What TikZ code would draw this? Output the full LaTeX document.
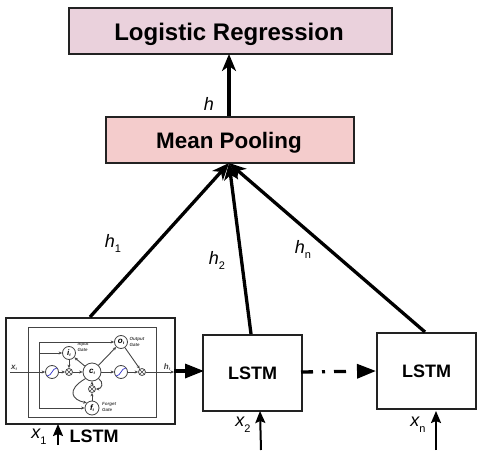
\documentclass[tikz,border=0pt]{standalone}
\usepackage{fontspec}
\setmainfont{Liberation Sans}
\usetikzlibrary{arrows.meta,calc}
\definecolor{lrfill}{HTML}{EAD1DC}
\definecolor{mpfill}{HTML}{F4CCCC}
\definecolor{edge}{HTML}{222222}
\definecolor{inner}{HTML}{444444}
\tikzset{
  x=1pt,y=-1pt,
  box/.style={draw=edge,line width=2pt,minimum height=0pt,inner sep=0pt,anchor=north west},
  bigarrow/.style={line width=3.3pt,draw=black,-{Stealth[length=17pt,width=14pt,inset=5pt]}},
  smallarrow/.style={line width=2pt,draw=black,-{Stealth[length=12pt,width=10pt,inset=2pt]}},
  flowarrow/.style={line width=3.3pt,draw=black,-{Stealth[length=19pt,width=14pt,inset=0pt]}},
  lab/.style={font=\fontsize{18}{18}\selectfont\itshape,inner sep=0pt},
  cell/.style={circle,draw=inner,line width=0.8pt,fill=white,inner sep=0pt},
  wire/.style={draw=inner,line width=0.9pt,-{Stealth[length=3.5pt,width=3pt]}},
  tiny/.style={font=\fontsize{4.5}{5}\selectfont\itshape\bfseries,text=inner,inner sep=0pt,align=left},
  sym/.style={font=\fontsize{8}{8}\selectfont\itshape\bfseries,inner sep=0pt}
}
\begin{document}
\begin{tikzpicture}
\useasboundingbox (0,0) rectangle (497,462);
% main boxes
\node[box,fill=lrfill,minimum width=323pt,minimum height=46pt] (lr) at (68,7) {};
\node[font=\fontsize{24}{24}\selectfont\bfseries] (lrt) at (229,34) {Logistic Regression};
\node[box,fill=mpfill,minimum width=248pt,minimum height=46pt] (mp) at (105,116) {};
\node[font=\fontsize{22.4}{22}\selectfont\bfseries] (mpt) at (229,143) {Mean Pooling};
\node[box,fill=white,minimum width=169pt,minimum height=106pt] (l1) at (5,317) {};
\node[box,draw=inner,line width=1.3pt,minimum width=128pt,minimum height=90pt] (in) at (28,327) {};
\node[box,fill=white,minimum width=99pt,minimum height=76pt,font=\fontsize{18}{18}\selectfont\bfseries] (l2) at (202,334) {LSTM};
\node[box,fill=white,minimum width=99pt,minimum height=76pt,font=\fontsize{18}{18}\selectfont\bfseries] (l3) at (376,332) {LSTM};
% anchors
\coordinate (top) at (229,163);
\coordinate (a1) at (90,317);
\coordinate (a2) at (251,334);
\coordinate (a3) at (425,332);
\coordinate (hb) at (229,116);
\coordinate (ht) at (229,54);
\draw[bigarrow] (a1) -- (top);
\draw[bigarrow] (a2) -- (top);
\draw[bigarrow] (a3) -- (top);
\draw[bigarrow] (hb) -- (ht);
% horizontal
\coordinate (f1) at (174,371);
\coordinate (f2) at (204,371);
\coordinate (d1) at (301,372);
\coordinate (d2) at (376,371);
\draw[flowarrow] (f1) -- (f2);
\draw[flowarrow,dash pattern=on 12pt off 9pt on 3pt off 9pt on 12pt off 30pt] (d1) -- (d2);
% inputs
\coordinate (i1a) at (58,445); \coordinate (i1b) at (58,424);
\coordinate (i2a) at (261,450); \coordinate (i2b) at (260,411);
\coordinate (i3a) at (436,450); \coordinate (i3b) at (436,411);
\draw[smallarrow] (i1a) -- (i1b);
\draw[smallarrow] (i2a) -- (i2b);
\draw[smallarrow] (i3a) -- (i3b);
% labels
\node[lab] (lh) at (209,104) {h};
\node[lab] (lh1) at (113,243) {h\raisebox{-5pt}{\fontsize{11}{11}\selectfont\upshape 1}};
\node[lab] (lh2) at (217,260) {h\raisebox{-5pt}{\fontsize{11}{11}\selectfont\upshape 2}};
\node[lab] (lhn) at (303,249) {h\raisebox{-5pt}{\fontsize{11}{11}\selectfont\upshape n}};
\node[lab] (lx1) at (39,437) {x\raisebox{-6pt}{\fontsize{11}{11}\selectfont\upshape 1}};
\node[lab] (lx2) at (243,425) {x\raisebox{-6pt}{\fontsize{11}{11}\selectfont\upshape 2}};
\node[lab] (lxn) at (418,425) {x\raisebox{-6pt}{\fontsize{11}{11}\selectfont\upshape n}};
\node[font=\fontsize{18}{18}\selectfont\bfseries,inner sep=0pt] (lstmcap) at (94,436) {LSTM};
% inner cell
\node[cell,minimum size=13pt] (s1) at (52,372) {};
\node[cell,minimum size=7pt] (m1) at (69,372) {};
\node[cell,minimum size=13pt,sym] (it) at (69,353) {i\raisebox{-1pt}{\fontsize{4}{4}\selectfont t}};
\node[cell,minimum size=18pt,sym] (ct) at (92,372) {c\raisebox{-1pt}{\fontsize{4}{4}\selectfont t}};
\node[cell,minimum size=13pt] (s2) at (121,372) {};
\node[cell,minimum size=7pt] (m2) at (142,372) {};
\node[cell,minimum size=13pt,sym] (ot) at (121,342) {o\raisebox{-1pt}{\fontsize{4}{4}\selectfont t}};
\node[cell,minimum size=7pt] (m3) at (92,389) {};
\node[cell,minimum size=14pt,sym] (ft) at (92,408) {f\raisebox{-1pt}{\fontsize{4}{4}\selectfont t}};
\draw[blue!60!gray,line width=0.7pt] (47,376) .. controls (52,376) and (52,368) .. (57,368);
\draw[blue!60!gray,line width=0.7pt] (116,376) .. controls (121,376) and (121,368) .. (126,368);
\foreach \m in {m1,m2,m3}{
  \draw[inner,line width=0.5pt] (\m.north west) -- (\m.south east) (\m.north east) -- (\m.south west);
}
\coordinate (xin) at (10,372);
\coordinate (hout) at (174,372);
\coordinate (bt) at (39,342);
\coordinate (bm) at (39,353);
\coordinate (bb) at (39,408);
\draw[wire] (xin) -- (s1);
\draw[wire] (s1) -- (m1);
\draw[wire] (m1) -- (ct);
\draw[wire] (ct) -- (s2);
\draw[wire] (s2) -- (m2);
\draw[wire] (m2) -- (hout);
\draw[wire] (it) -- (m1);
\draw[wire] (ct) -- (it);
\draw[wire] (ct) -- (ot);
\draw[wire] (ot) -- (m2);
\draw[wire] (m3) -- (ct);
\draw[wire] (ft) -- (m3);
\draw[inner,line width=0.9pt] (bt) -- (bb);
\draw[wire] (bt) -- (ot);
\draw[wire] (bm) -- (it);
\draw[wire] (bb) -- (ft);
\draw[wire] (ct.south west) .. controls (66,390) and (72,400) .. (ft.north west);
\draw[wire] (ct.south east) .. controls (104,382) and (102,389) .. (m3.east);
\node[tiny] (t1) at (83,347) {Input\\[1pt]Gate};
\node[tiny] (t2) at (137,342) {Output\\[1pt]Gate};
\node[tiny] (t3) at (109,407) {Forget\\[1pt]Gate};
\node[sym,text=inner] (xt) at (14,368) {x\raisebox{-1pt}{\fontsize{4}{4}\selectfont t}};
\node[sym,text=inner] (ht2) at (167,367) {h\raisebox{-1pt}{\fontsize{4}{4}\selectfont t}};
\end{tikzpicture}
\end{document}
